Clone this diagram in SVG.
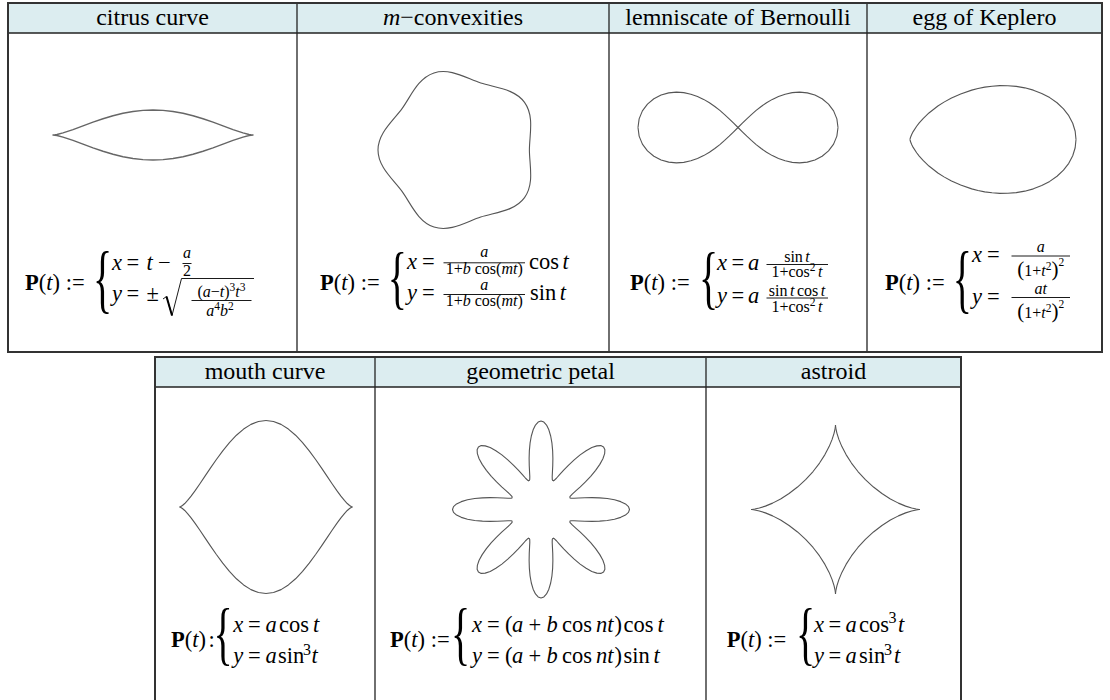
<svg xmlns="http://www.w3.org/2000/svg" xmlns:xlink="http://www.w3.org/1999/xlink" width="1110" height="700" viewBox="0 0 1110 700">
<style>
.t{font-family:"Liberation Serif","Times New Roman",serif;fill:#000}
.h{font-size:24px;text-anchor:middle}
.m{font-size:22.5px}
.s{font-size:16px}
.ss{font-size:11.5px}
.i{font-style:italic}
.b{font-weight:bold}
.c{text-anchor:middle}
.br{font-size:40px}
.cv{fill:none;stroke:#555;stroke-width:1.1;stroke-linejoin:round}
.hd{fill:#dcedf0}
.ln{stroke:#222;stroke-width:1.3;fill:none}
.ob{stroke:#333;stroke-width:2;fill:none}
.fb{stroke:#000;stroke-width:0.9}
.rad{fill:none;stroke:#000;stroke-width:0.9}
</style>
<defs>
<polyline id="lq" class="cv" points="738,127.5 742.375,123.142 746.815,118.819 751.39,114.567 756.163,110.432 761.203,106.471 766.571,102.756 772.325,99.383 778.508,96.469 785.14,94.167 792.207,92.656 799.637,92.146 807.282,92.859 814.897,95.002 822.128,98.726 828.53,104.07 833.598,110.899 836.87,118.883 838,127.5"/>
<polyline id="eh" class="cv" points="1076,139.5 1075.17,131.24 1072.73,123.23 1068.77,115.68 1063.48,108.8 1057.04,102.74 1049.72,97.58 1041.74,93.39 1033.36,90.15 1024.8,87.84 1016.24,86.38 1007.85,85.68 999.75,85.65 992.04,86.18 984.77,87.16 977.99,88.5 971.72,90.12 960.67,93.9 951.5,98 943.99,102.11 937.88,106.04 928.95,112.97 923.1,118.54 919.23,122.88 916.64,126.22 913.16,131.6 911.66,134.52 910.57,137.2 910.12,138.77 910,139.5"/>
<polyline id="mq" class="cv" points="352.5,507 352.171,506.943 351.186,506.547 349.553,505.5 347.283,503.539 344.396,500.471 340.912,496.188 336.856,490.677 332.262,484.027 327.165,476.418 321.601,468.116 315.615,459.455 309.25,450.817 302.557,442.606 295.585,435.224 288.388,429.044 281.021,424.382 273.539,421.485 266,420.5"/>
<polyline id="aq" class="cv" points="920,509.5 919.038,509.444 916.208,509.058 911.654,508.035 905.616,506.119 898.405,503.122 890.384,498.938 881.946,493.555 873.485,487.058 865.375,479.625 857.942,471.515 851.445,463.054 846.063,454.616 841.878,446.595 838.881,439.384 836.965,433.346 835.942,428.792 835.556,425.962 835.5,425"/>
<polyline id="pp" class="cv" points="28.64,11.863 29.931,11.265 33.001,11.202 37.723,11.443 43.829,11.744 50.944,11.878 58.602,11.657 66.291,10.945 73.492,9.675 79.694,7.849 84.469,5.536 87.473,2.864 88.5,0 87.473,-2.864 84.469,-5.536 79.694,-7.849 73.492,-9.675 66.291,-10.945 58.602,-11.657 50.944,-11.878 43.829,-11.744 37.723,-11.443 33.001,-11.202 29.931,-11.265 28.64,-11.863"/>
</defs>

<g id="table-top">
<rect class="hd" x="8" y="3" width="1094" height="30"/>
<line class="ln" x1="8" y1="33" x2="1102" y2="33"/>
<line class="ln" x1="297" y1="3" x2="297" y2="352"/>
<line class="ln" x1="609" y1="3" x2="609" y2="352"/>
<line class="ln" x1="867" y1="3" x2="867" y2="352"/>
<rect class="ob" x="8" y="3" width="1094" height="349"/>
</g>
<g id="table-bottom">
<rect class="hd" x="155" y="357" width="806" height="30"/>
<line class="ln" x1="155" y1="387" x2="961" y2="387"/>
<line class="ln" x1="375" y1="357" x2="375" y2="702"/>
<line class="ln" x1="706" y1="357" x2="706" y2="702"/>
<path class="ob" d="M155,702 V357 H961 V702"/>
</g>

<g id="n-citrus">
<text class="t h" x="152.5" y="25">citrus curve</text>
<path class="cv" style="stroke:#666;stroke-width:1.4" d="M53,135 L55,134.8 57,134.45 63,132.93 73,129.6 83,125.89 93,122.2 103,118.76 113,115.75 123,113.3 133,111.5 143,110.4 153,110 163,110.4 173,111.5 183,113.3 193,115.75 203,118.76 213,122.2 223,125.89 233,129.6 243,132.93 249,134.45 251,134.8 253,135 251,135.2 249,135.55 243,137.07 233,140.4 223,144.11 213,147.8 203,151.24 193,154.25 183,156.7 173,158.5 163,159.6 153,160 143,159.6 133,158.5 123,156.7 113,154.25 103,151.24 93,147.8 83,144.11 73,140.4 63,137.07 57,135.55 55,135.2 Z"/>
<text class="t m" y="290"><tspan x="25" class="b">P</tspan>(<tspan class="i">t</tspan>) :=</text>
<text class="t br" transform="translate(93,304.3) scale(1,1.89)">{</text>
<text class="t m" y="269.5"><tspan x="112" class="i">x</tspan><tspan x="126.5">=</tspan><tspan x="146.5" class="i">t</tspan><tspan x="158">−</tspan></text>
<text class="t s i c" x="187" y="258">a</text>
<line class="fb" x1="182.5" y1="263.5" x2="191.5" y2="263.5"/>
<text class="t s c" x="187" y="276">2</text>
<text class="t m" y="301"><tspan x="112" class="i">y</tspan><tspan x="126.5">=</tspan><tspan x="146.5">±</tspan></text>
<polyline class="rad" points="163,299 166.5,296.5 172,315.5 181.5,278.5 254,278.5"/>
<line x1="166.5" y1="296.5" x2="172" y2="315.5" stroke="#000" stroke-width="2"/>
<text class="t s c" x="221.5" y="297">(<tspan class="i">a</tspan>−<tspan class="i">t</tspan>)<tspan class="ss" dy="-6">3</tspan><tspan class="i" dy="6">t</tspan><tspan class="ss" dy="-6">3</tspan></text>
<line class="fb" x1="191.5" y1="300.5" x2="251.5" y2="300.5"/>
<text class="t s c" x="220" y="315.5"><tspan class="i">a</tspan><tspan class="ss" dy="-6">4</tspan><tspan class="i" dy="6">b</tspan><tspan class="ss" dy="-6">2</tspan></text>
</g>

<g id="n-mconvex">
<text class="t h" x="453" y="25"><tspan class="i">m</tspan>−convexities</text>
<path class="cv" d="M529.4,150 C529.4,135.13 534.59,116.23 524.53,102.39 C514.47,88.55 494.9,87.65 480.76,83.05 C466.62,78.45 450.24,67.67 433.97,72.96 C417.7,78.25 410.78,96.59 402.04,108.62 C393.3,120.65 378,132.89 378,150 C378,167.11 393.3,179.35 402.04,191.38 C410.78,203.41 417.7,221.75 433.97,227.04 C450.24,232.33 466.62,221.55 480.76,216.95 C494.9,212.35 514.47,211.45 524.53,197.61 C534.59,183.77 529.4,164.87 529.4,150 Z"/>
<text class="t m" y="290"><tspan x="320" class="b">P</tspan>(<tspan class="i">t</tspan>) :=</text>
<text class="t br" transform="translate(387.7,300.6) scale(1,1.76)">{</text>
<text class="t m" y="268.5"><tspan x="407" class="i">x</tspan><tspan x="422">=</tspan></text>
<text class="t s i c" x="484.2" y="257">a</text>
<line class="fb" x1="443.5" y1="262.8" x2="525" y2="262.8"/>
<text class="t s c" x="484.2" y="273.5">1+<tspan class="i">b</tspan> cos(<tspan class="i">mt</tspan>)</text>
<text class="t m" x="529" y="268.5">cos<tspan class="i" dx="3.5">t</tspan></text>
<text class="t m" y="300"><tspan x="407" class="i">y</tspan><tspan x="422">=</tspan></text>
<text class="t s i c" x="484.2" y="290">a</text>
<line class="fb" x1="443.5" y1="294.5" x2="525" y2="294.5"/>
<text class="t s c" x="484.2" y="306">1+<tspan class="i">b</tspan> cos(<tspan class="i">mt</tspan>)</text>
<text class="t m" x="530" y="300">sin<tspan class="i" dx="3.5">t</tspan></text>
</g>

<g id="n-lemniscate">
<text class="t h" x="738" y="25">lemniscate of Bernoulli</text>
<use xlink:href="#lq" href="#lq"/>
<use xlink:href="#lq" href="#lq" transform="translate(1476,0) scale(-1,1)"/>
<use xlink:href="#lq" href="#lq" transform="translate(0,255) scale(1,-1)"/>
<use xlink:href="#lq" href="#lq" transform="translate(1476,255) scale(-1,-1)"/>
<text class="t m" y="290"><tspan x="630" class="b">P</tspan>(<tspan class="i">t</tspan>) :=</text>
<text class="t br" transform="translate(699,300.6) scale(1,1.76)">{</text>
<text class="t m" y="270"><tspan x="717" class="i">x</tspan><tspan x="731.5">=</tspan><tspan x="748" class="i">a</tspan></text>
<text class="t s c" x="797" y="261.5">sin<tspan class="i" dx="2.5">t</tspan></text>
<line class="fb" x1="766.5" y1="264.5" x2="828" y2="264.5"/>
<text class="t s c" x="797" y="276.5">1+cos<tspan class="ss" dy="-6">2</tspan><tspan class="i" dx="2.5" dy="6">t</tspan></text>
<text class="t m" y="303"><tspan x="717" class="i">y</tspan><tspan x="731.5">=</tspan><tspan x="748" class="i">a</tspan></text>
<text class="t s c" x="797" y="295.5">sin<tspan class="i" dx="2.5">t</tspan><tspan dx="2.5">cos</tspan><tspan class="i" dx="2.5">t</tspan></text>
<line class="fb" x1="766.5" y1="298" x2="828" y2="298"/>
<text class="t s c" x="797" y="311.5">1+cos<tspan class="ss" dy="-6">2</tspan><tspan class="i" dx="2.5" dy="6">t</tspan></text>
</g>

<g id="n-egg">
<text class="t h" x="984.5" y="25">egg of Keplero</text>
<use xlink:href="#eh" href="#eh"/>
<use xlink:href="#eh" href="#eh" transform="translate(0,279) scale(1,-1)"/>
<text class="t m" y="290"><tspan x="885" class="b">P</tspan>(<tspan class="i">t</tspan>) :=</text>
<text class="t br" transform="translate(952.7,304.3) scale(1,1.89)">{</text>
<text class="t m" y="262"><tspan x="972" class="i">x</tspan><tspan x="987">=</tspan></text>
<text class="t s i c" x="1040.7" y="251.5">a</text>
<line class="fb" x1="1011.5" y1="256" x2="1070" y2="256"/>
<text class="t s c" x="1040.7" y="276"><tspan font-size="21">(</tspan>1+<tspan class="i">t</tspan><tspan class="ss" dy="-6">2</tspan><tspan font-size="21" dy="6">)</tspan><tspan class="ss" dy="-10">2</tspan></text>
<text class="t m" y="303.5"><tspan x="972" class="i">y</tspan><tspan x="987">=</tspan></text>
<text class="t s i c" x="1040.7" y="293.5">at</text>
<line class="fb" x1="1011.5" y1="297.5" x2="1070" y2="297.5"/>
<text class="t s c" x="1040.7" y="317.5"><tspan font-size="21">(</tspan>1+<tspan class="i">t</tspan><tspan class="ss" dy="-6">2</tspan><tspan font-size="21" dy="6">)</tspan><tspan class="ss" dy="-10">2</tspan></text>
</g>

<g id="n-mouth">
<text class="t h" x="265" y="379">mouth curve</text>
<use xlink:href="#mq" href="#mq"/>
<use xlink:href="#mq" href="#mq" transform="translate(532,0) scale(-1,1)"/>
<use xlink:href="#mq" href="#mq" transform="translate(0,1014) scale(1,-1)"/>
<use xlink:href="#mq" href="#mq" transform="translate(532,1014) scale(-1,-1)"/>
<text class="t m" y="646.7"><tspan x="171" class="b">P</tspan>(<tspan class="i">t</tspan>)<tspan x="208.5">:</tspan></text>
<text class="t br" transform="translate(213.5,657.3) scale(1,1.76)">{</text>
<text class="t m" y="631.7"><tspan x="233.3" class="i">x</tspan><tspan x="248">=</tspan><tspan x="265.5" class="i">a</tspan><tspan x="279">cos</tspan><tspan x="313" class="i">t</tspan></text>
<text class="t m" y="663.3"><tspan x="233.3" class="i">y</tspan><tspan x="248">=</tspan><tspan x="265.5" class="i">a</tspan><tspan x="278">sin</tspan><tspan class="s" x="303" dy="-8.5">3</tspan><tspan x="311.5" dy="8.5" class="i">t</tspan></text>
</g>

<g id="n-petal">
<text class="t h" x="540.5" y="379">geometric petal</text>
<g transform="translate(541,509.5)">
<use xlink:href="#pp" href="#pp"/>
<use xlink:href="#pp" href="#pp" transform="rotate(45)"/>
<use xlink:href="#pp" href="#pp" transform="rotate(90)"/>
<use xlink:href="#pp" href="#pp" transform="rotate(135)"/>
<use xlink:href="#pp" href="#pp" transform="rotate(180)"/>
<use xlink:href="#pp" href="#pp" transform="rotate(225)"/>
<use xlink:href="#pp" href="#pp" transform="rotate(270)"/>
<use xlink:href="#pp" href="#pp" transform="rotate(315)"/>
</g>
<text class="t m" y="646.7"><tspan x="390" class="b">P</tspan>(<tspan class="i">t</tspan>) :=</text>
<text class="t br" transform="translate(451,657.3) scale(1,1.76)">{</text>
<text class="t m" y="631.7"><tspan x="472" class="i">x</tspan><tspan x="487">=</tspan><tspan x="505">(</tspan><tspan x="512" class="i">a</tspan><tspan x="528.5">+</tspan><tspan x="546.5" class="i">b</tspan><tspan x="562">cos</tspan><tspan x="596" class="i">nt</tspan><tspan x="614.5">)</tspan><tspan x="623.5">cos</tspan><tspan x="657.5" class="i">t</tspan></text>
<text class="t m" y="663.3"><tspan x="472" class="i">y</tspan><tspan x="487">=</tspan><tspan x="505">(</tspan><tspan x="512" class="i">a</tspan><tspan x="528.5">+</tspan><tspan x="546.5" class="i">b</tspan><tspan x="562">cos</tspan><tspan x="596" class="i">nt</tspan><tspan x="614.5">)</tspan><tspan x="623.5">sin</tspan><tspan x="653.5" class="i">t</tspan></text>
</g>

<g id="n-astroid">
<text class="t h" x="833.5" y="379">astroid</text>
<use xlink:href="#aq" href="#aq"/>
<use xlink:href="#aq" href="#aq" transform="translate(1671,0) scale(-1,1)"/>
<use xlink:href="#aq" href="#aq" transform="translate(0,1019) scale(1,-1)"/>
<use xlink:href="#aq" href="#aq" transform="translate(1671,1019) scale(-1,-1)"/>
<text class="t m" y="646.7"><tspan x="726.7" class="b">P</tspan>(<tspan class="i">t</tspan>) :=</text>
<text class="t br" transform="translate(796,657.3) scale(1,1.76)">{</text>
<text class="t m" y="631.7"><tspan x="814" class="i">x</tspan><tspan x="828.5">=</tspan><tspan x="845.5" class="i">a</tspan><tspan x="859">cos</tspan><tspan class="s" x="888.5" dy="-8.5">3</tspan><tspan x="898" dy="8.5" class="i">t</tspan></text>
<text class="t m" y="663.3"><tspan x="814" class="i">y</tspan><tspan x="828.5">=</tspan><tspan x="845.5" class="i">a</tspan><tspan x="859">sin</tspan><tspan class="s" x="884" dy="-8.5">3</tspan><tspan x="894" dy="8.5" class="i">t</tspan></text>
</g>

<g id="connectors"/>
</svg>
